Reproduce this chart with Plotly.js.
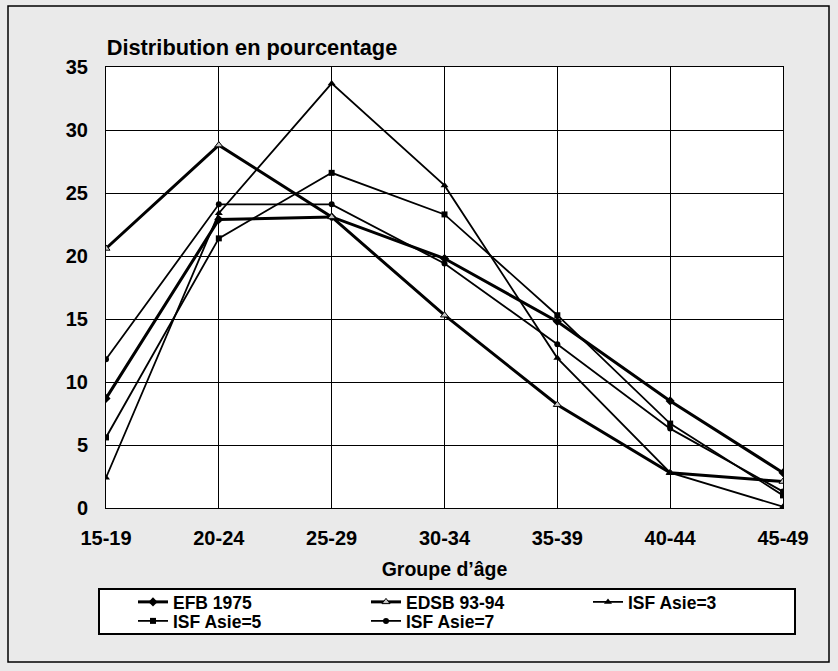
<!DOCTYPE html>
<html>
<head>
<meta charset="utf-8">
<script src="https://cdn.plot.ly/plotly-3.0.1.min.js"></script>
<style>html,body{margin:0;padding:0;background:#eaeaea;}#chart{width:838px;height:671px;}</style>
</head>
<body>
<div id="chart"></div>
<script>
const ageGroups = ["15-19","20-24","25-29","30-34","35-39","40-44","45-49"];
const efb1975 = [8.7, 22.9, 23.1, 19.8, 14.8, 8.5, 2.8];
const edsb9394 = [20.6, 28.8, 23.1, 15.3, 8.2, 2.8, 2.1];
const isfAsie3 = [2.4, 23.4, 33.7, 25.6, 11.9, 2.8, 0.1];
const isfAsie5 = [5.6, 21.4, 26.6, 23.3, 15.3, 6.7, 1.0];
const isfAsie7 = [11.8, 24.1, 24.1, 19.4, 13.0, 6.3, 1.3];
const seriesNames = ["EFB 1975","EDSB 93-94","ISF Asie=3","ISF Asie=5","ISF Asie=7"];

const FONT = "Liberation Sans, Arial, sans-serif";
const TXT = (s) => ({family: FONT, size: s, color: "#000", weight: "bold"});
const traces = [
  {x: ageGroups, y: efb1975, name: seriesNames[0], mode: "lines+markers", legend: "legend",
   line: {color: "#000", width: 3}, marker: {symbol: "diamond", size: 7, color: "#000"}},
  {x: ageGroups, y: edsb9394, name: seriesNames[1], mode: "lines+markers", legend: "legend2",
   line: {color: "#000", width: 3}, marker: {symbol: "triangle-up", size: 7, color: "#c8c8c8", line: {color: "#000", width: 1}}},
  {x: ageGroups, y: isfAsie3, name: seriesNames[2], mode: "lines+markers", legend: "legend3",
   line: {color: "#000", width: 1.8}, marker: {symbol: "triangle-up", size: 7, color: "#000"}},
  {x: ageGroups, y: isfAsie5, name: seriesNames[3], mode: "lines+markers", legend: "legend4",
   line: {color: "#000", width: 1.8}, marker: {symbol: "square", size: 6, color: "#000"}},
  {x: ageGroups, y: isfAsie7, name: seriesNames[4], mode: "lines+markers", legend: "legend5",
   line: {color: "#000", width: 1.8}, marker: {symbol: "circle", size: 6, color: "#000"}}
];

const W = 677, H = 441;
const px = (x) => (x - 106) / W;
const py = (y) => (508 - y) / H;
const leg = (x, y) => ({orientation: "h", xanchor: "left", yanchor: "middle", x: px(x), y: py(y),
  bgcolor: "rgba(0,0,0,0)", borderwidth: 0, itemwidth: 30, font: TXT(17.5)});
const layout = {
  width: 838, height: 671,
  margin: {l: 106, r: 55, t: 67, b: 163},
  paper_bgcolor: "#eaeaea", plot_bgcolor: "#ffffff",
  font: TXT(19),
  showlegend: true,
  title: {text: "Distribution en pourcentage", font: TXT(21.8),
          xref: "paper", x: 0.001, xanchor: "left", yref: "container", y: 1 - 47/671, yanchor: "middle"},
  xaxis: {type: "category", range: [0, 6], showgrid: true, gridcolor: "#000", gridwidth: 1,
          showline: true, linecolor: "#000", linewidth: 1, mirror: true, ticks: "",
          ticklabelstandoff: 12, tickfont: TXT(20),
          title: {text: "Groupe d’âge", font: TXT(19.5), standoff: 14},
          zeroline: false, fixedrange: true},
  yaxis: {range: [0, 35], dtick: 5, showgrid: true, gridcolor: "#000", gridwidth: 1,
          showline: true, linecolor: "#000", linewidth: 1, mirror: true, ticks: "",
          ticklabelstandoff: 13, tickfont: TXT(20),
          zeroline: false, fixedrange: true},
  legend: leg(133, 602),
  legend2: leg(366, 602),
  legend3: leg(588, 602),
  legend4: leg(133, 621),
  legend5: leg(366, 621),
  shapes: [
    {type: "rect", xref: "paper", yref: "paper",
     x0: px(8), x1: px(829), y0: py(662), y1: py(6),
     line: {color: "#000", width: 1.5}, fillcolor: "rgba(0,0,0,0)", layer: "below"},
    {type: "rect", xref: "paper", yref: "paper",
     x0: px(99), x1: px(795), y0: py(634), y1: py(589),
     line: {color: "#000", width: 2}, fillcolor: "#ffffff", layer: "below"}
  ]
};
Plotly.newPlot("chart", traces, layout, {displayModeBar: false, staticPlot: true});
</script>
</body>
</html>
